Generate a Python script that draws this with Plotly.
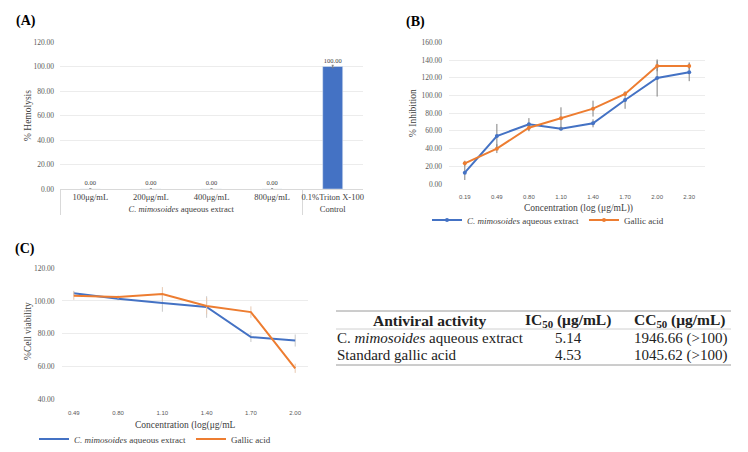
import plotly.graph_objects as go

# the page body has an 8px margin, so the figure is 16px smaller and shifted
OFF = 8
W, H = 748 - 2 * OFF, 452 - 2 * OFF

# ---------- data ----------
# Panel A
a_groups = ["<i>C. mimosoides</i> aqueous extract"] * 4 + ["Control"]
a_cats = ["100μg/mL", "200μg/mL", "400μg/mL", "800μg/mL", "0.1%Triton X-100"]
a_vals = [0.0, 0.0, 0.0, 0.0, 100.0]
a_err = [0.0, 0.0, 0.0, 0.0, 1.0]

# Panel B
b_x = ["0.19", "0.49", "0.80", "1.10", "1.40", "1.70", "2.00", "2.30"]
b_ext = [12.8, 54.2, 67.4, 62.5, 68.5, 94.9, 119.7, 126.1]
b_ext_err = [8.3, 13.6, 7.0, 2.0, 4.5, 10.0, 21.0, 10.0]
b_ga = [23.3, 39.9, 63.6, 74.2, 85.1, 101.7, 133.3, 133.3]
b_ga_err = [3.0, 5.0, 4.0, 12.4, 9.0, 2.0, 6.0, 4.0]

# Panel C
c_x = ["0.49", "0.80", "1.10", "1.40", "1.70", "2.00"]
c_ext = [104.7, 101.4, 98.7, 96.3, 77.9, 75.8]
c_ext_err = [1.5, 1.0, 5.3, 6.6, 3.0, 3.7]
c_ga = [103.2, 102.4, 104.2, 96.9, 93.2, 58.8]
c_ga_err = [2.5, 1.0, 4.3, 5.0, 3.5, 2.8]

# Table
t_header = ["<b>Antiviral activity</b>", "<b>IC<sub>50</sub> (μg/mL)</b>", "<b>CC<sub>50</sub> (μg/mL)</b>"]
t_rows = [
    ["C. <i>mimosoides</i> aqueous extract", "5.14", "1946.66 (>100)"],
    ["Standard gallic acid", "4.53", "1045.62 (>100)"],
]

BLUE = "#4472C4"
ORANGE = "#ED7D31"
SERIF = "Liberation Serif, DejaVu Serif, serif"
SANS = "Liberation Sans, Arial, sans-serif"
GRAY = "#595959"
GRID = "#ececec"

def px(x):
    return (x - OFF) / W

def py(y):
    return 1 - (y - OFF) / H

fig = go.Figure()

# ---------- Panel A ----------
fig.add_trace(go.Bar(
    x=[a_groups, a_cats], y=a_vals, marker_color=BLUE, width=0.33,
    error_y=dict(type="data", array=a_err, color="#7f7f7f", thickness=1, width=1),
    text=[f"{v:.2f}" for v in a_vals], textposition="outside", cliponaxis=False,
    textfont=dict(family=SERIF, size=6.5, color="#404040"),
    showlegend=False, xaxis="x", yaxis="y",
))

# ---------- Panel B ----------
fig.add_trace(go.Scatter(
    x=b_x, y=b_ext, mode="lines+markers", name="<i>C. mimosoides</i> aqueous extract",
    line=dict(color=BLUE, width=2), marker=dict(size=4, color=BLUE),
    error_y=dict(type="data", array=b_ext_err, color="#808080", thickness=1, width=0),
    xaxis="x2", yaxis="y2", legend="legend",
))
fig.add_trace(go.Scatter(
    x=b_x, y=b_ga, mode="lines+markers", name="Gallic acid",
    line=dict(color=ORANGE, width=2), marker=dict(size=4, color=ORANGE),
    error_y=dict(type="data", array=b_ga_err, color="#808080", thickness=1, width=0),
    xaxis="x2", yaxis="y2", legend="legend",
))

# ---------- Panel C ----------
fig.add_trace(go.Scatter(
    x=c_x, y=c_ext, mode="lines", name="<i>C. mimosoides</i> aqueous extract",
    line=dict(color=BLUE, width=2),
    error_y=dict(type="data", array=c_ext_err, color="#c8c8c8", thickness=1, width=0),
    xaxis="x3", yaxis="y3", legend="legend2",
))
fig.add_trace(go.Scatter(
    x=c_x, y=c_ga, mode="lines", name="Gallic acid",
    line=dict(color=ORANGE, width=2),
    error_y=dict(type="data", array=c_ga_err, color="#e8c8b0", thickness=1, width=0),
    xaxis="x3", yaxis="y3", legend="legend2",
))

ytick = dict(family=SERIF, size=7.5, color=GRAY)

fig.update_layout(
    width=W, height=H, margin=dict(l=0, r=0, t=0, b=0, autoexpand=False),
    paper_bgcolor="white", plot_bgcolor="white",
    font=dict(family=SERIF, color=GRAY),
    xaxis=dict(domain=[px(60), px(363)], type="multicategory", tickangle=0,
               showdividers=True, dividercolor="#d9d9d9", dividerwidth=1,
               tickfont=dict(family=SERIF, size=8.5, color="#404040"),
               showgrid=False, showline=True, linecolor="#d9d9d9", linewidth=1,
               ticks="", automargin=False),
    yaxis=dict(domain=[py(189), py(42)], range=[0, 120], dtick=20, tickformat=".2f",
               showgrid=True, gridcolor=GRID, tickfont=ytick, zeroline=False,
               showline=False, ticks="", ticklabelstandoff=5, automargin=False),
    xaxis2=dict(domain=[px(449), px(705)], type="category", anchor="y2",
                tickfont=dict(family=SANS, size=6, color=GRAY), automargin=False,
                showgrid=False, showline=False, ticks="", zeroline=False,
                ticklabelstandoff=8),
    yaxis2=dict(domain=[py(184), py(42.3)], range=[0, 160], dtick=20, tickformat=".2f",
                anchor="x2", showgrid=True, gridcolor=GRID, tickfont=ytick, automargin=False,
                zeroline=False, ticks="", ticklabelstandoff=6),
    xaxis3=dict(domain=[px(61.5), px(307.5)], type="category", anchor="y3",
                tickfont=dict(family=SANS, size=6, color=GRAY), automargin=False,
                showgrid=False, showline=False, ticks="", zeroline=False,
                ticklabelstandoff=9),
    yaxis3=dict(domain=[py(399), py(268.3)], range=[40, 120], dtick=20, tickformat=".2f",
                anchor="x3", showgrid=True, gridcolor=GRID, tickfont=ytick, automargin=False,
                zeroline=False, ticks="", ticklabelstandoff=6),
    legend=dict(orientation="h", x=px(548), y=py(220), xanchor="center", yanchor="middle",
                font=dict(family=SERIF, size=9, color="#404040"), itemwidth=30,
                tracegroupgap=0, bgcolor="rgba(0,0,0,0)"),
    legend2=dict(orientation="h", x=px(155), y=py(439), xanchor="center", yanchor="middle",
                 font=dict(family=SERIF, size=9, color="#404040"), itemwidth=30,
                 tracegroupgap=0, bgcolor="rgba(0,0,0,0)"),
)

ann = []
def add_text(x, y, text, size, color="#404040", angle=0, xanchor="center", family=SERIF):
    ann.append(dict(x=px(x), y=py(y), xref="paper", yref="paper", text=text, showarrow=False,
                    font=dict(family=family, size=size, color=color), textangle=angle,
                    xanchor=xanchor, yanchor="middle"))

# panel labels
add_text(14, 21, "<b>(A)</b>", 14, color="black", xanchor="left")
add_text(404, 22, "<b>(B)</b>", 14, color="black", xanchor="left")
add_text(13, 249, "<b>(C)</b>", 14, color="black", xanchor="left")
# axis titles
add_text(28, 116, "% Hemolysis", 9.5, angle=-90)
add_text(413, 113, "% Inhibition", 9.5, angle=-90)
add_text(28, 331, "%Cell viability", 9.5, angle=-90)
add_text(578, 208, "Concentration (log (μg/mL))", 9.5)
add_text(185, 425, "Concentration (log(μg/mL", 9.5)

# table
col_x = [335, 568, 680]
hdr_y, r1_y, r2_y = 320, 338, 355
add_text(429, hdr_y, t_header[0], 15.5, color="#222222")
add_text(col_x[1], hdr_y, t_header[1], 15.5, color="#222222")
add_text(col_x[2], hdr_y, t_header[2], 15.5, color="#222222")
for ry, row in zip([r1_y, r2_y], t_rows):
    add_text(col_x[0], ry, row[0], 15, color="#222222", xanchor="left")
    add_text(col_x[1], ry, row[1], 15, color="#222222")
    add_text(col_x[2], ry, row[2], 15, color="#222222")

fig.update_layout(annotations=ann)

shapes = []
for yy, col in [(311, "#9a9a9a"), (329, "#d0d0d0"), (365, "#9a9a9a")]:
    shapes.append(dict(type="line", xref="paper", yref="paper", x0=px(336), x1=px(731),
                       y0=py(yy), y1=py(yy), line=dict(color=col, width=1)))
fig.update_layout(shapes=shapes)

fig.write_html("out.html")
